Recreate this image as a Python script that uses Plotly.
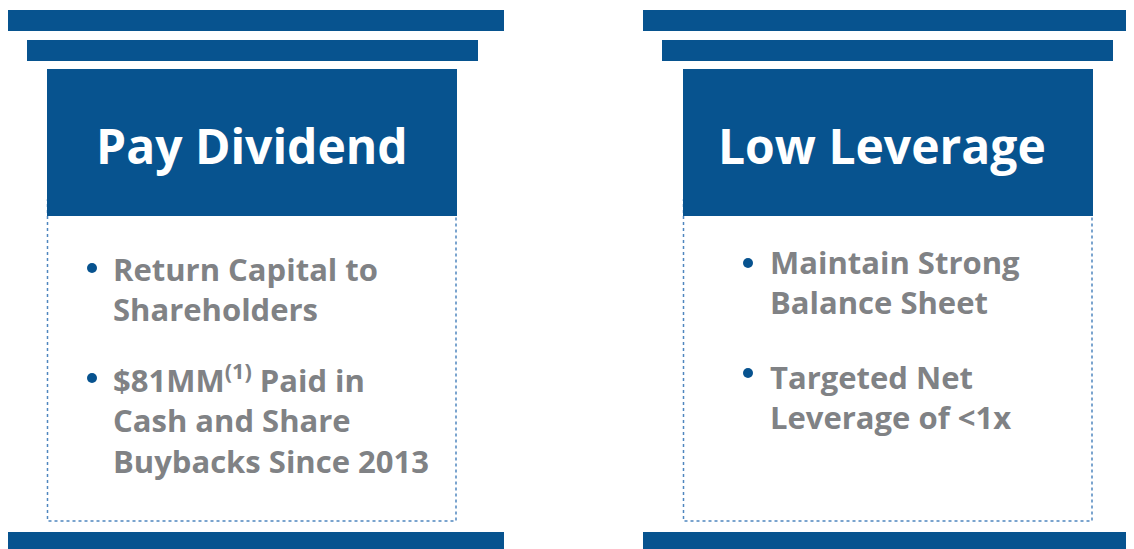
import plotly.graph_objects as go

# ---- content ----
titles = ["Pay Dividend", "Low Leverage"]
bullets_left = ["Return Capital to<br>Shareholders",
                "$81MM<sup>(1)</sup> Paid in<br>Cash and Share<br>Buybacks Since 2013"]
bullets_right = ["Maintain Strong<br>Balance Sheet",
                 "Targeted Net<br>Leverage of <1x"]

BLUE = "#07538F"
GRAY = "#808285"
DASH = "#4F86BF"
OFF = 8  # page body margin
W, H = 1134, 549
FONT = "Open Sans"

fig = go.Figure()

pillars = [
    dict(x0=7, x1=504, ix0=27, ix1=478, hx0=47, hx1=457, title_x=252,
         bullet_x=92, text_x=111, bullets=bullets_left, tops=[246, 354],
         dots=[268, 378]),
    dict(x0=643, x1=1134, ix0=662, ix1=1113, hx0=683, hx1=1093, title_x=882,
         bullet_x=748, text_x=768, bullets=bullets_right, tops=[239, 354],
         dots=[263, 373]),
]

shapes = []
annotations = []
bx, by = [], []
for p, title in zip(pillars, titles):
    shapes.append(dict(type="rect", x0=p["x0"], x1=p["x1"], y0=10, y1=31,
                       fillcolor=BLUE, line=dict(width=0), layer="below"))
    shapes.append(dict(type="rect", x0=p["ix0"], x1=p["ix1"], y0=40, y1=61,
                       fillcolor=BLUE, line=dict(width=0), layer="below"))
    shapes.append(dict(type="rect", x0=p["hx0"] + 0.5, x1=p["hx1"] - 1, y0=200, y1=521,
                       fillcolor="white", line=dict(color=DASH, width=1.5, dash="dot"),
                       layer="below"))
    shapes.append(dict(type="rect", x0=p["hx0"], x1=p["hx1"], y0=69, y1=216,
                       fillcolor=BLUE, line=dict(width=0), layer="below"))
    shapes.append(dict(type="rect", x0=p["x0"], x1=p["x1"], y0=532, y1=560,
                       fillcolor=BLUE, line=dict(width=0), layer="below"))
    annotations.append(dict(x=p["title_x"], y=145, text="<b>%s</b>" % title,
                            showarrow=False, xanchor="center", yanchor="middle",
                            font=dict(family=FONT, size=48, color="white")))
    for txt, top in zip(p["bullets"], p["tops"]):
        annotations.append(dict(x=p["text_x"], y=top, text="<b>%s</b>" % txt,
                                showarrow=False, xanchor="left", yanchor="top",
                                align="left",
                                font=dict(family=FONT, size=31, color=GRAY)))
    bx += [p["bullet_x"]] * len(p["dots"])
    by += p["dots"]

fig.add_trace(go.Scatter(x=bx, y=by, mode="markers",
                         marker=dict(color=BLUE, size=10), hoverinfo="skip",
                         showlegend=False))

fig.update_layout(
    width=W - OFF, height=H - OFF, margin=dict(l=0, r=0, t=0, b=0),
    paper_bgcolor="white", plot_bgcolor="white",
    xaxis=dict(range=[OFF, W], visible=False, fixedrange=True),
    yaxis=dict(range=[H, OFF], visible=False, fixedrange=True),
    shapes=shapes, annotations=annotations, showlegend=False,
)

fig.write_html("out.html", config={"displayModeBar": False})
